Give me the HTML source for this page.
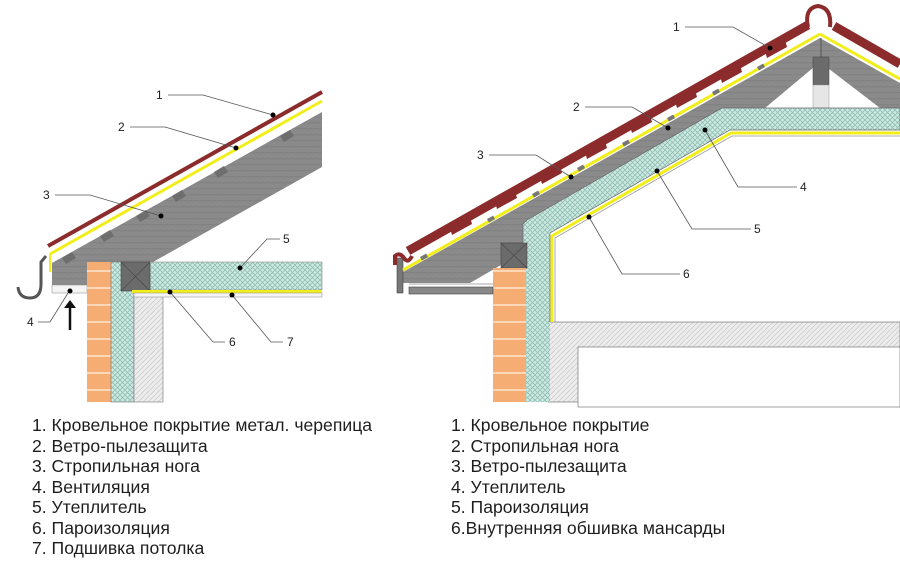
<!DOCTYPE html>
<html><head><meta charset="utf-8"><style>
html,body{margin:0;padding:0;background:#fff;width:900px;height:571px;overflow:hidden}
.lg{position:absolute;font-family:"Liberation Sans",Arial,sans-serif;font-size:17.6px;color:#1e1e1e;line-height:20.5px;white-space:nowrap}
</style></head><body>
<svg width="900" height="571" style="position:absolute;left:0;top:0" font-family="Liberation Sans, Arial, sans-serif">
<defs>
<pattern id="grn" width="5" height="5" patternUnits="userSpaceOnUse">
<rect width="5" height="5" fill="#cfe9e2"/><path d="M0,0L5,5M5,0L0,5" stroke="#8fbfb2" stroke-width="0.8"/></pattern>
<pattern id="htc" width="5" height="5" patternUnits="userSpaceOnUse">
<rect width="5" height="5" fill="#ececec"/><path d="M0,5L5,0" stroke="#c8c8c8" stroke-width="0.7"/></pattern>
<pattern id="brk" width="40" height="17" patternUnits="userSpaceOnUse">
<rect width="40" height="17" fill="#f6ad74"/><rect y="15" width="40" height="2" fill="#fbd8b8"/></pattern>
<pattern id="gry" width="6" height="6" patternUnits="userSpaceOnUse">
<rect width="6" height="6" fill="#8a8a8a"/><path d="M0,3L6,2.5" stroke="#808080" stroke-width="1"/></pattern>
</defs>

<!-- LEFT -->
<polygon points="52,263 322,112 322,167 153,262 87,262 87,285 52,285" fill="url(#gry)"/>
<g fill="#6e6e6e">
<polygon points="62,258 72,252 76,258 66,264"/>
<polygon points="100,236 110,230 114,236 104,242"/>
<polygon points="136,216 146,210 150,216 140,222"/>
<polygon points="172,196 182,190 186,196 176,202"/>
<polygon points="214,172 224,166 228,172 218,178"/>
<polygon points="280,136 290,130 294,136 284,142"/>
</g>
<line x1="48" y1="246" x2="322" y2="92" stroke="#8b2b2b" stroke-width="4"/>
<line x1="50" y1="254" x2="322" y2="101" stroke="#f2ee1a" stroke-width="3"/>
<line x1="50" y1="254" x2="50" y2="272" stroke="#f2ee1a" stroke-width="2"/>
<path d="M46,256 L41,262 L41,284 Q41,298 30,298 Q19,298 18,287" stroke="#555" stroke-width="3" fill="none"/>
<rect x="52" y="285" width="35" height="8" fill="#f4f4f4" stroke="#999" stroke-width="0.6"/>
<line x1="70" y1="330" x2="70" y2="306" stroke="#111" stroke-width="2.5"/>
<polygon points="64,308 76,308 70,300" fill="#111"/>
<rect x="87" y="262" width="24" height="140" fill="url(#brk)"/>
<rect x="111" y="262" width="23" height="140" fill="url(#grn)" stroke="#777" stroke-width="0.6"/>
<rect x="134" y="292" width="29" height="110" fill="url(#htc)" stroke="#777" stroke-width="0.6"/>
<rect x="150" y="262" width="172" height="28" fill="url(#grn)" stroke="#888" stroke-width="0.6"/>
<rect x="121" y="262" width="29" height="29" fill="#6b6b6b" stroke="#444" stroke-width="0.6"/>
<path d="M121,262L150,291M150,262L121,291" stroke="#444" stroke-width="0.6"/>
<rect x="132" y="290" width="190" height="3" fill="#f2ee1a"/>
<rect x="134" y="293" width="188" height="4" fill="#f4f4f4" stroke="#888" stroke-width="0.5"/>

<!-- RIGHT -->
<polygon points="403,272 820,38 900,83 900,108 722,108 527,220 527,250 470,283 403,283" fill="url(#gry)"/>
<polygon points="765,108 820,62 880,108" fill="#fff"/>
<rect x="813" y="57" width="16" height="28" fill="#6b6b6b" stroke="#444" stroke-width="0.5"/>
<rect x="813" y="85" width="16" height="23" fill="#e6e6e6" stroke="#999" stroke-width="0.5"/>
<line x1="821" y1="38" x2="821" y2="57" stroke="#555" stroke-width="1"/>
<polygon points="527,220 722,108 900,108 900,130 730,130 550,233 550,400 523,400 523,224" fill="url(#grn)" stroke="#666" stroke-width="0.7"/>
<rect x="548" y="322" width="352" height="80" fill="url(#htc)" stroke="#777" stroke-width="0.7"/>
<rect x="578" y="347" width="322" height="60" fill="#fff" stroke="#777" stroke-width="0.7"/>
<rect x="523" y="322" width="27" height="80" fill="url(#grn)"/>
<polyline points="552,322 552,236 731,133 900,133" fill="none" stroke="#f2ee1a" stroke-width="3"/>
<polyline points="555,322 555,238 732,136 900,136" fill="none" stroke="#999" stroke-width="0.8"/>
<rect x="501" y="243" width="26" height="25" fill="#6b6b6b" stroke="#444" stroke-width="0.6"/>
<path d="M501,243L527,268M527,243L501,268" stroke="#444" stroke-width="0.6"/>
<rect x="493" y="268" width="33" height="134" fill="url(#brk)"/>
<rect x="397" y="258" width="6" height="35" fill="#777" stroke="#444" stroke-width="0.6"/>
<rect x="409" y="287" width="84" height="7" fill="#888" stroke="#444" stroke-width="0.6"/>
<line x1="409" y1="284" x2="493" y2="284" stroke="#aaa" stroke-width="1"/>
<line x1="403" y1="270" x2="820" y2="34" stroke="#f2ee1a" stroke-width="3"/>
<line x1="820" y1="34" x2="900" y2="79" stroke="#f2ee1a" stroke-width="3"/>
<line x1="408" y1="251" x2="808" y2="25" stroke="#8b2b2b" stroke-width="9"/>
<line x1="834" y1="26" x2="900" y2="64" stroke="#8b2b2b" stroke-width="9"/>
<g fill="#8b2b2b">
<polygon points="450,228 470,217 472,224 452,235"/>
<polygon points="495,202 515,191 517,198 497,209"/>
<polygon points="540,177 560,166 562,173 542,184"/>
<polygon points="585,152 605,141 607,148 587,159"/>
<polygon points="630,126 650,115 652,122 632,133"/>
<polygon points="675,101 695,90 697,97 677,108"/>
<polygon points="720,76 740,65 742,72 722,83"/>
<polygon points="765,51 785,40 787,47 767,58"/>
</g>
<g fill="#777">
<rect x="420" y="257" width="7" height="4" transform="rotate(-29 420 257)"/>
<rect x="487" y="219" width="7" height="4" transform="rotate(-29 487 219)"/>
<rect x="532" y="194" width="7" height="4" transform="rotate(-29 532 194)"/>
<rect x="577" y="168" width="7" height="4" transform="rotate(-29 577 168)"/>
<rect x="622" y="143" width="7" height="4" transform="rotate(-29 622 143)"/>
<rect x="667" y="118" width="7" height="4" transform="rotate(-29 667 118)"/>
<rect x="712" y="92" width="7" height="4" transform="rotate(-29 712 92)"/>
<rect x="757" y="67" width="7" height="4" transform="rotate(-29 757 67)"/>
</g>
<path d="M808,27 Q804,8 818,6 Q832,8 830,27" stroke="#8b2b2b" stroke-width="4" fill="none"/>
<path d="M395,265 L395,256 Q400,252 404,258 Q408,264 412,256" stroke="#8b2b2b" stroke-width="4" fill="none"/>

<!-- leaders -->
<g stroke="#555" stroke-width="0.8" fill="none">
<polyline points="168,95 203,95 273,115"/>
<polyline points="130,127 165,127 236,148"/>
<polyline points="55,195 90,195 161,216"/>
<polyline points="280,239 267,239 240,268"/>
<polyline points="38,322 50,322 68,293"/>
<polyline points="225,342 213,342 170,292"/>
<polyline points="283,342 271,342 232,295"/>
<polyline points="685,27 733,27 770,48"/>
<polyline points="585,107 632,107 668,128"/>
<polyline points="489,155 536,155 571,177"/>
<polyline points="797,187 738,187 705,130"/>
<polyline points="751,229 692,229 657,171"/>
<polyline points="680,274 622,274 589,217"/>
</g>
<g fill="#000">
<circle cx="273" cy="115" r="2.5"/><circle cx="236" cy="148" r="2.5"/><circle cx="161" cy="216" r="2.5"/>
<circle cx="240" cy="268" r="2.5"/><circle cx="70" cy="291" r="2.5"/><circle cx="170" cy="292" r="2.5"/><circle cx="232" cy="295" r="2.5"/>
<circle cx="770" cy="48" r="2.5"/><circle cx="668" cy="128" r="2.5"/><circle cx="571" cy="177" r="2.5"/>
<circle cx="705" cy="130" r="2.5"/><circle cx="657" cy="171" r="2.5"/><circle cx="589" cy="217" r="2.5"/>
</g>
<g font-size="12" fill="#222">
<text x="156" y="99">1</text><text x="118" y="131">2</text><text x="43" y="199">3</text>
<text x="283" y="243">5</text><text x="27" y="326">4</text><text x="229" y="346">6</text><text x="287" y="346">7</text>
<text x="673" y="31">1</text><text x="573" y="111">2</text><text x="477" y="159">3</text>
<text x="800" y="191">4</text><text x="754" y="233">5</text><text x="683" y="278">6</text>
</g>
</svg>
<div class="lg" style="left:32px;top:415px">1. Кровельное покрытие метал. черепица<br>2. Ветро-пылезащита<br>3. Стропильная нога<br>4. Вентиляция<br>5. Утеплитель<br>6. Пароизоляция<br>7. Подшивка потолка</div>
<div class="lg" style="left:451px;top:415px">1. Кровельное покрытие<br>2. Стропильная нога<br>3. Ветро-пылезащита<br>4. Утеплитель<br>5. Пароизоляция<br>6.Внутренняя обшивка мансарды</div>
</body></html>
